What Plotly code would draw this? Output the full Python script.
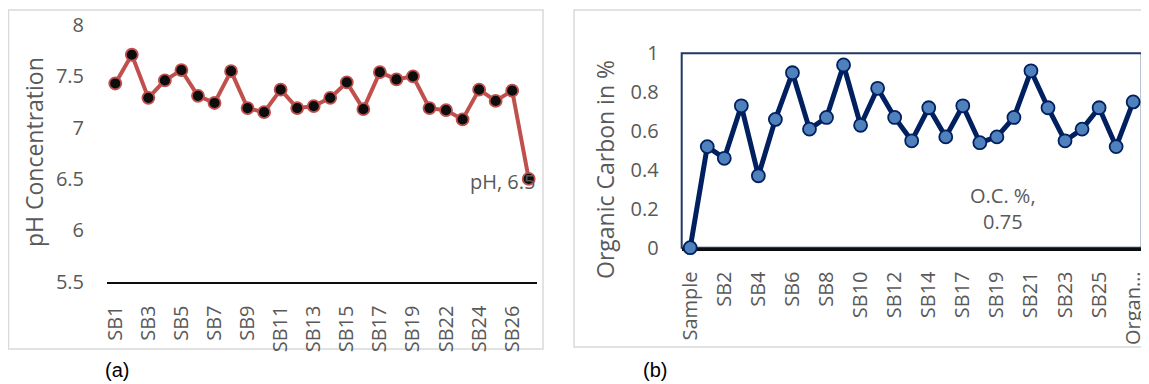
import plotly.graph_objects as go

# page is shown with the browser's default 8px body margin
OFF = 8
W, H = 1149 - OFF, 384 - OFF

# ---- data: panel (a) pH ----
ph_categories = ["SB1", "SB2", "SB3", "SB4", "SB5", "SB6", "SB7", "SB8", "SB9", "SB10",
                 "SB11", "SB12", "SB13", "SB14", "SB15", "SB16", "SB17", "SB18", "SB19",
                 "SB21", "SB22", "SB23", "SB24", "SB25", "SB26", "SB27"]
ph_values = [7.43, 7.71, 7.29, 7.46, 7.56, 7.31, 7.24, 7.55, 7.19, 7.15,
             7.37, 7.19, 7.21, 7.29, 7.44, 7.18, 7.54, 7.47, 7.50,
             7.19, 7.17, 7.08, 7.37, 7.26, 7.36, 6.5]
ph_series_name = "pH"
ph_yticks = [5.5, 6, 6.5, 7, 7.5, 8]

# ---- data: panel (b) organic carbon ----
oc_categories = ["Sample", "SB1", "SB2", "SB3", "SB4", "SB5", "SB6", "SB7", "SB8", "SB9",
                 "SB10", "SB11", "SB12", "SB13", "SB14", "SB15", "SB17", "SB18", "SB19",
                 "SB20", "SB21", "SB22", "SB23", "SB24", "SB25", "SB26", "Organic Carbon"]
oc_values = [0, 0.52, 0.46, 0.73, 0.37, 0.66, 0.90, 0.61, 0.67, 0.94,
             0.63, 0.82, 0.67, 0.55, 0.72, 0.57, 0.73, 0.54, 0.57,
             0.67, 0.91, 0.72, 0.55, 0.61, 0.72, 0.52, 0.75]
oc_series_name = "O.C. %"
oc_yticks = [0, 0.2, 0.4, 0.6, 0.8, 1]

FONT = "Open Sans"
GRAY = "#595959"

def px_x(p):
    return max(p - OFF, 0.5) / W

def px_y(p):
    return 1 - max(p - OFF, 0.5) / H

fig = go.Figure()

fig.add_trace(go.Scatter(
    x=ph_categories, y=ph_values, mode="lines+markers", name=ph_series_name,
    line=dict(color="#C0504D", width=4),
    marker=dict(size=12, color="#0D0D0D", line=dict(color="#C0504D", width=1.8)),
    xaxis="x", yaxis="y", cliponaxis=False, showlegend=False,
))

fig.add_trace(go.Scatter(
    x=oc_categories, y=oc_values, mode="lines+markers", name=oc_series_name,
    line=dict(color="#002060", width=5),
    marker=dict(size=13, color="#4F81BD", line=dict(color="#002060", width=1.8)),
    xaxis="x2", yaxis="y2", cliponaxis=False, showlegend=False,
))

tickfont = dict(family=FONT, size=20, color=GRAY)

ph_ticktext = list(ph_categories[::2])
oc_tickvals = list(oc_categories[::2])
oc_ticktext = [c if len(c) <= 6 else c[:5] + "\u2026" for c in oc_tickvals]

fig.update_layout(
    template="none",
    width=W, height=H,
    margin=dict(l=0, r=0, t=0, b=0, pad=0, autoexpand=False),
    paper_bgcolor="white", plot_bgcolor="rgba(0,0,0,0)",
    font=dict(family=FONT, color=GRAY),
    xaxis=dict(
        domain=[px_x(107), px_x(537)], anchor="y", automargin=False,
        type="category", categoryorder="array", categoryarray=ph_categories,
        range=[-0.5, len(ph_categories) - 0.5],
        tickmode="array", tickvals=ph_ticktext, ticktext=ph_ticktext,
        tickangle=-90, tickfont=tickfont, ticks="", ticklabelstandoff=14,
        showline=True, linecolor="#0D0D0D", linewidth=2, showgrid=False, zeroline=False,
    ),
    yaxis=dict(
        domain=[px_y(281.5), px_y(25)], anchor="x", automargin=False,
        range=[5.5, 8], tickmode="array", tickvals=ph_yticks,
        ticktext=[f"{v:g}" for v in ph_yticks],
        tickfont=tickfont, ticks="", ticklabelstandoff=22,
        showline=False, showgrid=False, zeroline=False,
    ),
    xaxis2=dict(
        domain=[px_x(681.7), px_x(1141.7)], anchor="y2", automargin=False,
        type="category", categoryorder="array", categoryarray=oc_categories,
        range=[-0.5, len(oc_categories) - 0.5],
        tickmode="array", tickvals=oc_tickvals, ticktext=oc_ticktext,
        tickangle=-90, tickfont=tickfont, ticks="", ticklabelstandoff=13,
        showline=True, linecolor="#0D0D0D", linewidth=2.5, showgrid=False, zeroline=False,
        layer="below traces",
    ),
    yaxis2=dict(
        domain=[px_y(247.7), px_y(53.3)], anchor="x2", automargin=False,
        range=[0, 1], tickmode="array", tickvals=oc_yticks,
        ticktext=[f"{v:g}" for v in oc_yticks],
        tickfont=tickfont, ticks="", ticklabelstandoff=22,
        showline=False, showgrid=False, zeroline=False,
    ),
)

# panel borders and plot-area box
fig.add_shape(type="rect", xref="paper", yref="paper",
              x0=px_x(7), x1=px_x(543), y0=px_y(349), y1=px_y(10),
              line=dict(color="#D9D9D9", width=1.5), layer="below")
fig.add_shape(type="rect", xref="paper", yref="paper",
              x0=px_x(574), x1=1.01, y0=px_y(347), y1=px_y(10),
              line=dict(color="#D9D9D9", width=1.5), layer="below")
fig.add_shape(type="rect", xref="x2 domain", yref="y2 domain",
              x0=0, x1=1, y0=0, y1=1,
              line=dict(color="#1F3864", width=2), layer="below")

annotations = [
    # axis titles
    dict(text="pH Concentration", xref="paper", yref="paper",
         x=px_x(34), y=px_y(152), textangle=-90, showarrow=False,
         xanchor="center", yanchor="middle",
         font=dict(family=FONT, size=23, color=GRAY)),
    dict(text="Organic Carbon in %", xref="paper", yref="paper",
         x=px_x(605), y=px_y(170), textangle=-90, showarrow=False,
         xanchor="center", yanchor="middle",
         font=dict(family=FONT, size=23, color=GRAY)),
    # data labels
    dict(text=f"{ph_series_name}, {ph_values[-1]:g}", xref="x", yref="y",
         x=ph_categories[-1], y=ph_values[-1], xanchor="right", yanchor="middle",
         xshift=8, yshift=-3, showarrow=False,
         font=dict(family=FONT, size=20, color=GRAY)),
    dict(text=f"{oc_series_name},<br>{oc_values[-1]:g}", xref="paper", yref="paper",
         x=px_x(1003), y=px_y(208), xanchor="center", yanchor="middle",
         showarrow=False, font=dict(family=FONT, size=20, color=GRAY)),
    # panel captions
    dict(text="(a)", xref="paper", yref="paper", x=px_x(117), y=px_y(370),
         xanchor="center", yanchor="middle",
         showarrow=False, font=dict(family="Liberation Sans", size=20, color="black")),
    dict(text="(b)", xref="paper", yref="paper", x=px_x(655), y=px_y(370),
         xanchor="center", yanchor="middle",
         showarrow=False, font=dict(family="Liberation Sans", size=20, color="black")),
]
fig.update_layout(annotations=annotations)

fig.write_html("out.html")
